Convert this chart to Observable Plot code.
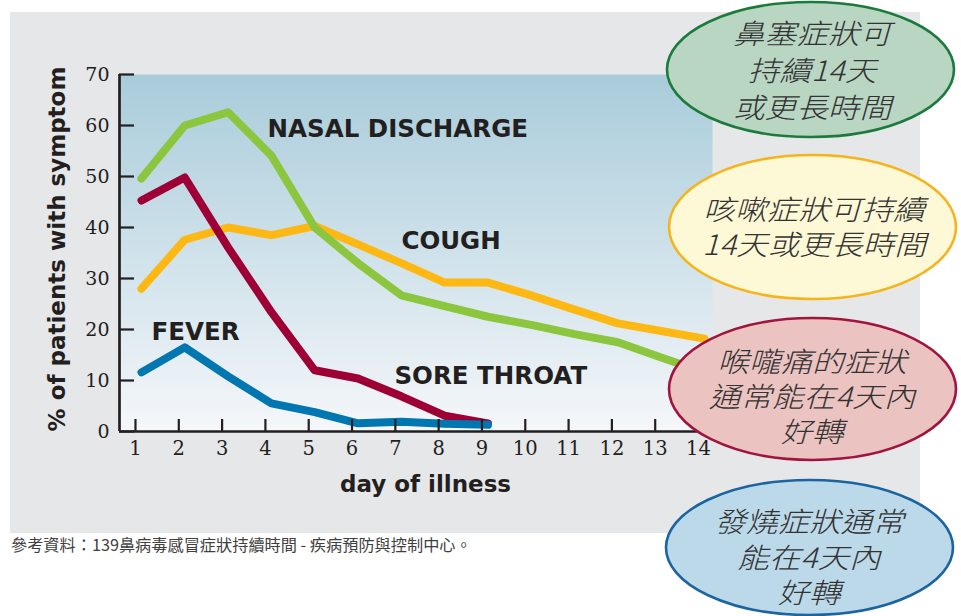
<!DOCTYPE html>
<html>
<head>
<meta charset="utf-8">
<script src="https://cdn.jsdelivr.net/npm/d3@7"></script>
<script src="https://cdn.jsdelivr.net/npm/@observablehq/plot@0.6"></script>
<style>
  html, body { margin: 0; padding: 0; background: #ffffff; }
  #chart { width: 961px; height: 616px; overflow: hidden; }
</style>
</head>
<body>
<div id="chart"></div>
<script>
// ---------- data ----------
const days = [1, 2, 3, 4, 5, 6, 7, 8, 9, 10, 11, 12, 13, 14];
const seriesNames = ["COUGH", "NASAL DISCHARGE", "SORE THROAT", "FEVER"];
const cough      = [28.0, 37.6, 40.0, 38.5, 40.3, 36.7, 33.0, 29.2, 29.2, 26.7, 23.9, 21.2, 19.7, 18.2];
const nasal      = [49.6, 60.0, 62.6, 54.1, 40.0, 33.0, 26.7, 24.6, 22.5, 20.9, 19.1, 17.5, 14.5, 11.6];
const soreThroat = [45.3, 49.8, 36.1, 23.4, 12.0, 10.4, 6.9, 3.1, 1.6];
const fever      = [11.6, 16.5, 10.8, 5.5, 3.8, 1.6, 1.9, 1.5, 1.3];
const seriesColors = ["#fdb813", "#8cc63f", "#9e0036", "#0077b0"];

const xTicks = days;
const yTicks = [0, 10, 20, 30, 40, 50, 60, 70];
const xDomain = [0.631, 14.323];
const yDomain = [0, 70];
const yTitle = "% of patients with symptom";
const xTitle = "day of illness";

// direct labels (anchored at day / percent)
const labelNames = ["NASAL DISCHARGE", "COUGH", "FEVER", "SORE THROAT"];
const labelDay   = [4.05, 7.14, 1.37, 6.98];
const labelPct   = [59.3, 37.3, 19.5, 10.9];

// callout bubbles
const calloutText = [
  ["鼻塞症狀可", "持續14天", "或更長時間"],
  ["咳嗽症狀可持續", "14天或更長時間"],
  ["喉嚨痛的症狀", "通常能在4天內", "好轉"],
  ["發燒症狀通常", "能在4天內", "好轉"]
];
const calloutFill   = ["#b9d6c3", "#fdf8d5", "#ebc3c1", "#bcd9ea"];
const calloutStroke = ["#1d7a3d", "#f5b41c", "#a1143e", "#1c64a0"];

const caption = "參考資料：139鼻病毒感冒症狀持續時間 - 疾病預防與控制中心。";

// ---------- tables ----------
const seriesValues = [cough, nasal, soreThroat, fever];
const rows = [];
seriesNames.forEach((name, s) => {
  seriesValues[s].forEach((v, i) => rows.push({series: name, day: days[i], value: v}));
});
const labels = labelNames.map((t, i) => ({text: t, day: labelDay[i], pct: labelPct[i]}));

const ink = "#231f20";

const chart = Plot.plot({
  width: 961,
  height: 616,
  marginLeft: 119,
  marginRight: 249,
  marginTop: 74,
  marginBottom: 185,
  x: {domain: xDomain},
  y: {domain: yDomain},
  color: {domain: seriesNames, range: seriesColors},
  style: {fontFamily: "DejaVu Sans", background: "transparent", overflow: "visible"},
  marks: [
    Plot.frame({fill: "url(#plotBg)", stroke: "none"}),
    Plot.line(rows, {
      x: "day", y: "value", z: "series", stroke: "series",
      strokeWidth: 8, strokeLinecap: "round", strokeLinejoin: "round", dx: 6
    }),
    Plot.text(labels, {
      x: "day", y: "pct", text: "text", textAnchor: "start", lineAnchor: "middle",
      fontFamily: "DejaVu Sans", fontWeight: "bold", fontSize: 24.5, fill: ink
    }),
    // axis lines
    Plot.ruleY([yDomain[0]], {stroke: ink, strokeWidth: 2.7}),
    Plot.ruleX([xDomain[0]], {stroke: ink, strokeWidth: 2.7}),
    // inward ticks
    Plot.axisY(yTicks, {tickSize: 15, dx: 15, tickFormat: () => "", label: null, stroke: ink, strokeWidth: 2.2}),
    Plot.axisX(xTicks, {tickSize: 12, dy: -12, tickFormat: () => "", label: null, stroke: ink, strokeWidth: 2.2}),
    // tick labels
    Plot.axisY(yTicks, {tickSize: 0, tickPadding: 10, label: null, fontFamily: "DejaVu Serif", fontSize: 19, fill: ink}),
    Plot.axisX(xTicks, {tickSize: 0, tickPadding: 10, label: null, fontFamily: "DejaVu Serif", fontSize: 19.5, fill: ink}),
    // axis titles
    Plot.text([yTitle], {
      frameAnchor: "left", text: d => d, rotate: -90, dx: -61.5, dy: -4,
      textAnchor: "middle", lineAnchor: "middle",
      fontFamily: "DejaVu Sans", fontWeight: "bold", fontSize: 23, fill: ink
    }),
    Plot.text([xTitle], {
      frameAnchor: "bottom", text: d => d, dx: 9.5, dy: 53.3, ariaLabel: "x-title",
      textAnchor: "middle", lineAnchor: "middle",
      fontFamily: "DejaVu Sans", fontWeight: "bold", fontSize: 23, fill: ink
    })
  ]
});

const svg = d3.select(chart);
// grey panel behind everything
svg.insert("rect", ":first-child")
  .attr("x", 10).attr("y", 12).attr("width", 910).attr("height", 521)
  .attr("fill", "#e6e7e9");
const defs = svg.insert("defs", ":first-child");
const grad = defs.append("linearGradient")
  .attr("id", "plotBg").attr("x1", 0).attr("y1", 0).attr("x2", 0).attr("y2", 1);
grad.append("stop").attr("offset", "0%").attr("stop-color", "#a9ccda");
grad.append("stop").attr("offset", "100%").attr("stop-color", "#f5f7fa");

svg.selectAll('g[aria-label="x-title"] text').style("letter-spacing", "1.5px");

// callout bubbles
const bubbleGeom = [
  {cx: 810.5, cy: 69.5, rx: 143.5, ry: 67.5, tx: 812, ty: 70.5, lh: 37},
  {cx: 812.5, cy: 227, rx: 143.5, ry: 72, tx: 814, ty: 227.5, lh: 35},
  {cx: 812.5, cy: 389, rx: 143.5, ry: 71, tx: 812, ty: 397, lh: 35},
  {cx: 809.5, cy: 547.5, rx: 143.5, ry: 67.5, tx: 809, ty: 557.5, lh: 35.5}
];
const bubbles = svg.append("g").attr("class", "callouts");
calloutText.forEach((lines, i) => {
  const g = bubbleGeom[i];
  const grp = bubbles.append("g");
  grp.append("ellipse")
    .attr("cx", g.cx).attr("cy", g.cy).attr("rx", g.rx).attr("ry", g.ry)
    .attr("fill", calloutFill[i]).attr("stroke", calloutStroke[i]).attr("stroke-width", 2.6);
  const n = lines.length;
  const text = grp.append("text")
    .attr("transform", `translate(${g.tx},${g.ty}) scale(1.13,1)`)
    .attr("text-anchor", "middle")
    .attr("font-family", "'Noto Sans CJK TC', 'Noto Sans CJK SC', sans-serif")
    .attr("font-style", "italic")
    .attr("font-weight", 300)
    .attr("font-size", 28)
    .attr("fill", "#333333");
  lines.forEach((line, j) => {
    const y = (j - (n - 1) / 2) * g.lh + 0.36 * 28;
    text.append("tspan").attr("x", 0).attr("y", y).text(line);
  });
});

// source caption
svg.append("text")
  .attr("x", 11).attr("y", 545.5).attr("dy", "0.36em")
  .attr("text-anchor", "start")
  .attr("font-family", "'Noto Sans CJK TC', sans-serif")
  .attr("font-size", 16.2)
  .attr("fill", "#404040")
  .text(caption);

document.getElementById("chart").appendChild(chart);
</script>
</body>
</html>
